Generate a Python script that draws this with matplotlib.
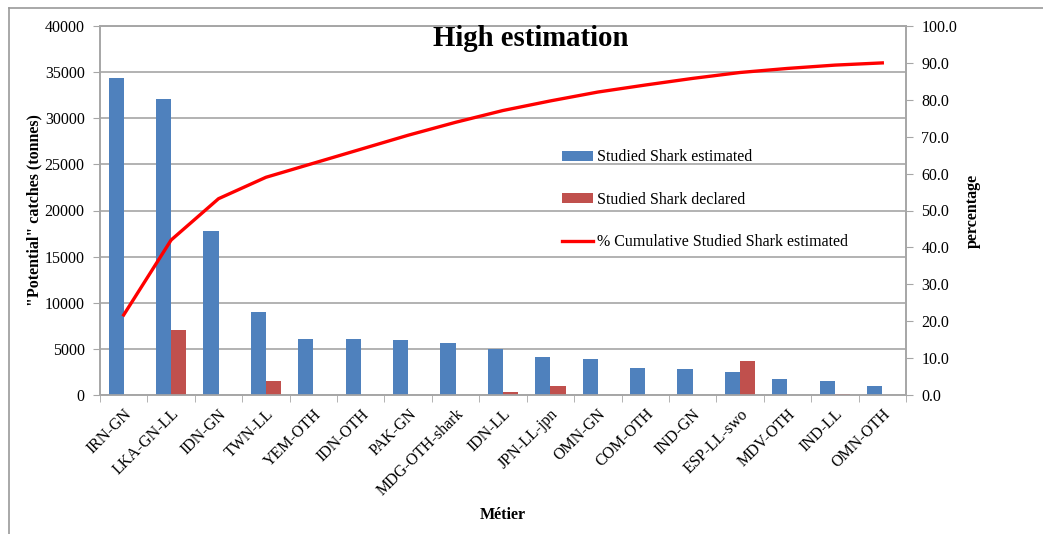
import matplotlib
matplotlib.use("Agg")
import matplotlib.pyplot as plt
import numpy as np
from matplotlib.ticker import FixedLocator, FormatStrFormatter

plt.rcParams['font.family'] = ['Liberation Serif', 'DejaVu Serif']

metiers = ["IRN-GN", "LKA-GN-LL", "IDN-GN", "TWN-LL", "YEM-OTH", "IDN-OTH", "PAK-GN",
           "MDG-OTH-shark", "IDN-LL", "JPN-LL-jpn", "OMN-GN", "COM-OTH", "IND-GN",
           "ESP-LL-swo", "MDV-OTH", "IND-LL", "OMN-OTH"]
estimated = [34340, 32050, 17740, 9030, 6035, 6035, 5925, 5640, 4990, 4090, 3870,
             2930, 2820, 2530, 1730, 1520, 975]
declared = [0, 7050, 0, 1480, 0, 0, 0, 0, 325, 975, 0, 0, 0, 3650, 0, 100, 0]
cumulative = [21.7, 42.0, 53.2, 59.0, 62.8, 66.6, 70.4, 73.9, 77.1, 79.7, 82.1,
              84.0, 85.8, 87.4, 88.5, 89.4, 90.0]

W, H = 1043, 534
fig = plt.figure(figsize=(W / 100, H / 100), dpi=100)
ax = fig.add_axes([100 / W, 1 - 395 / H, (906 - 100) / W, (395 - 26) / H])

x = np.arange(len(metiers))
bw = 0.32
grid_c = '#a6a6a6'
b1 = ax.bar(x - bw / 2, estimated, bw, color='#4F81BD', label='Studied Shark estimated', zorder=3)
b2 = ax.bar(x + bw / 2, declared, bw, color='#C0504D', label='Studied Shark declared', zorder=3)

ax.set_xlim(-0.5, len(metiers) - 0.5)
ax.set_ylim(0, 40000)
ax.set_yticks(np.arange(0, 40001, 5000))
ax.yaxis.grid(True, color=grid_c, linewidth=1.2, zorder=0)
ax.set_axisbelow(True)

ax.set_xticks(x)
ax.set_xticklabels(metiers, rotation=45, ha='right', rotation_mode='anchor', fontsize=11.5)
ax.xaxis.set_minor_locator(FixedLocator(np.arange(-0.5, len(metiers), 1.0)))
ax.tick_params(axis='x', which='major', length=0, pad=8)
ax.tick_params(axis='x', which='minor', length=5, color=grid_c, direction='out')
ax.tick_params(axis='y', length=5, color=grid_c, direction='out', labelsize=11.5, pad=6)

for s in ['left', 'right', 'bottom', 'top']:
    ax.spines[s].set_color(grid_c)
    ax.spines[s].set_linewidth(1.2)

ax.set_ylabel('"Potential" catches (tonnes)', fontsize=11.5, fontweight='bold', labelpad=1.5)
ax.set_xlabel('Métier', fontsize=11.5, fontweight='bold', labelpad=5.5)

ax2 = ax.twinx()
l1, = ax2.plot(x, cumulative, color='#FF0000', linewidth=2.4,
               label='% Cumulative Studied Shark estimated', zorder=4)
ax2.set_ylim(0, 100)
ax2.set_yticks(np.arange(0, 100.1, 10))
ax2.yaxis.set_major_formatter(FormatStrFormatter('%.1f'))
ax2.tick_params(axis='y', length=5, color=grid_c, direction='out', labelsize=11.5, pad=6)
for s in ['left', 'right', 'bottom', 'top']:
    ax2.spines[s].set_color(grid_c)
    ax2.spines[s].set_linewidth(1.2)
ax2.set_ylabel('percentage', fontsize=11.5, fontweight='bold', labelpad=5.5)

leg = fig.legend(handles=[b1, b2, l1], loc='upper left',
                 bbox_to_anchor=(556 / W, 1 - 143 / H), frameon=False,
                 fontsize=11.5, handlelength=1.9, handleheight=0.55,
                 handletextpad=0.25, labelspacing=1.65, borderaxespad=0)

fig.text(531 / W, 1 - 39 / H, 'High estimation', fontsize=20.7, fontweight='bold',
         ha='center', va='center')

# outer chart-area border
fig.add_artist(plt.Line2D([9 / W, 9 / W], [0, 1 - 8 / H], transform=fig.transFigure,
                          color='#9a9a9a', linewidth=1.2))
fig.add_artist(plt.Line2D([9 / W, 1], [1 - 8 / H, 1 - 8 / H], transform=fig.transFigure,
                          color='#9a9a9a', linewidth=1.2))

fig.savefig('out.png', dpi=100)
